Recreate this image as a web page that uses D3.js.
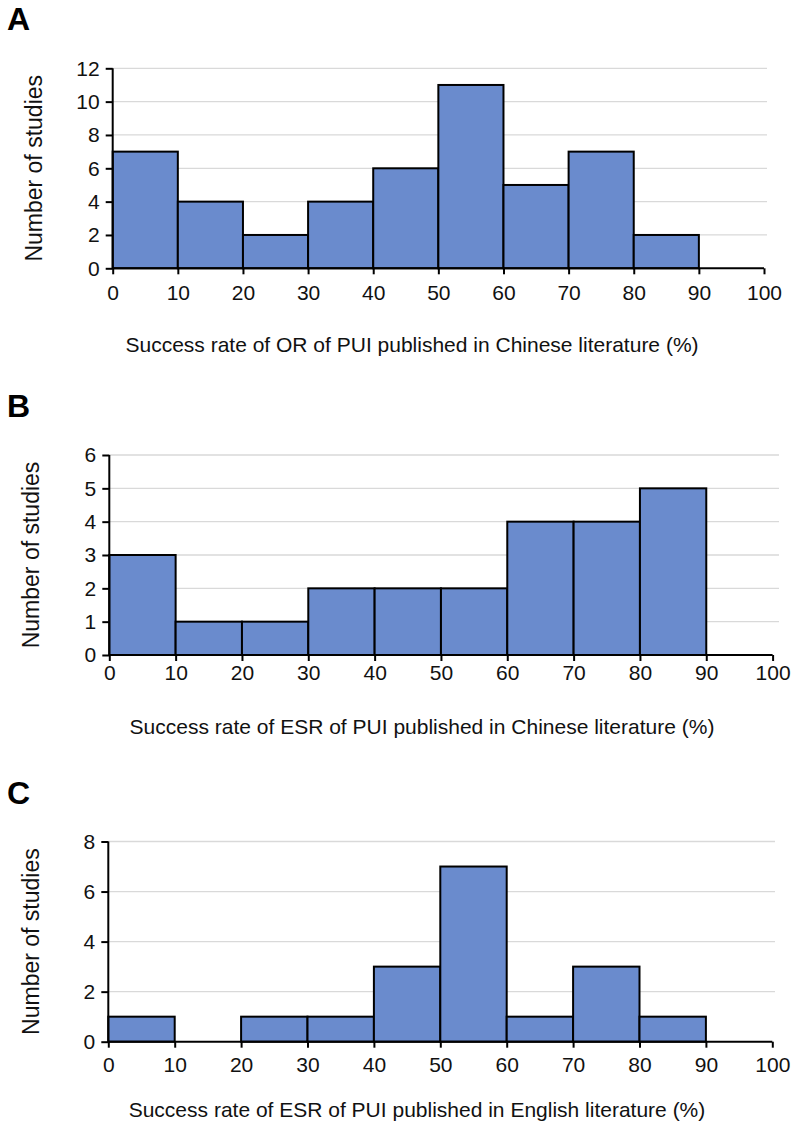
<!DOCTYPE html>
<html>
<head>
<meta charset="utf-8">
<script src="https://cdn.jsdelivr.net/npm/d3@7"></script>
<style>
  html, body { margin: 0; padding: 0; background: #fff; }
  svg { display: block; font-family: Arial, "Liberation Sans", sans-serif; }
</style>
</head>
<body>
<svg id="chart" width="797" height="1127"></svg>
<script>
// ---- data ----
const binStarts = [0, 10, 20, 30, 40, 50, 60, 70, 80, 90];
const binWidth = 10;
const countsA = [7, 4, 2, 4, 6, 11, 5, 7, 2, 0];
const countsB = [3, 1, 1, 2, 2, 2, 4, 4, 5, 0];
const countsC = [1, 0, 1, 1, 3, 7, 1, 3, 1, 0];
const xTicks = [0, 10, 20, 30, 40, 50, 60, 70, 80, 90, 100];
const yTicksA = [0, 2, 4, 6, 8, 10, 12];
const yTicksB = [0, 1, 2, 3, 4, 5, 6];
const yTicksC = [0, 2, 4, 6, 8];
const panelLetters = ["A", "B", "C"];
const yTitle = "Number of studies";
const xTitles = [
  "Success rate of OR of PUI published in Chinese literature (%)",
  "Success rate of ESR of PUI published in Chinese literature (%)",
  "Success rate of ESR of PUI published in English literature (%)"
];

// ---- layout per panel ----
const panels = [
  { letter: panelLetters[0], counts: countsA, yTicks: yTicksA, yMax: 12, xTitle: xTitles[0],
    x0: 112.7, x1: 764, top: 68.3, bottom: 268.3, gridEnd: 767,
    letterY: 30, yTitleX: 42, tickLabelDy: 32, xTitleX: 412, xTitleY: 352 },
  { letter: panelLetters[1], counts: countsB, yTicks: yTicksB, yMax: 6, xTitle: xTitles[1],
    x0: 109.3, x1: 772.6, top: 455, bottom: 655, gridEnd: 779,
    letterY: 417, yTitleX: 39, tickLabelDy: 25, xTitleX: 422, xTitleY: 734 },
  { letter: panelLetters[2], counts: countsC, yTicks: yTicksC, yMax: 8, xTitle: xTitles[2],
    x0: 108.3, x1: 772.3, top: 841.5, bottom: 1041.7, gridEnd: 775,
    letterY: 804, yTitleX: 39, tickLabelDy: 30, xTitleX: 417, xTitleY: 1117 }
];

const svg = d3.select("#chart");
const barFill = "#6a8bcd";

panels.forEach(p => {
  const g = svg.append("g");
  const x = d3.scaleLinear().domain([0, 100]).range([p.x0, p.x1]);
  const y = d3.scaleLinear().domain([0, p.yMax]).range([p.bottom, p.top]);

  // panel letter
  g.append("text").attr("x", 7).attr("y", p.letterY)
    .attr("font-size", 32).attr("font-weight", "bold").attr("fill", "#000")
    .text(p.letter);

  // gridlines
  g.append("g").selectAll("line").data(p.yTicks.filter(t => t > 0)).join("line")
    .attr("x1", p.x0).attr("x2", p.gridEnd)
    .attr("y1", d => y(d)).attr("y2", d => y(d))
    .attr("stroke", "#d9d9d9").attr("stroke-width", 1.3);

  // bars
  const bins = binStarts.map((s, i) => ({ s, v: p.counts[i] })).filter(d => d.v > 0);
  g.append("g").selectAll("rect").data(bins).join("rect")
    .attr("x", d => x(d.s)).attr("width", d => x(d.s + binWidth) - x(d.s))
    .attr("y", d => y(d.v)).attr("height", d => y(0) - y(d.v))
    .attr("fill", barFill).attr("stroke", "#000").attr("stroke-width", 2);

  // y axis
  const yAxis = d3.axisLeft(y).tickValues(p.yTicks).tickSize(7).tickPadding(6).tickFormat(d3.format("d"));
  const ya = g.append("g").attr("transform", `translate(${p.x0},0)`).call(yAxis);
  ya.select(".domain").attr("stroke", "#000").attr("stroke-width", 2).attr("d", `M0,${p.bottom}V${p.top}`);
  ya.selectAll(".tick line").attr("stroke", "#000").attr("stroke-width", 2);
  ya.selectAll(".tick text").attr("font-size", 21).attr("fill", "#111")
    .attr("font-family", "Arial, 'Liberation Sans', sans-serif");

  // x axis
  const xAxis = d3.axisBottom(x).tickValues(xTicks).tickSize(6).tickPadding(0).tickFormat(d3.format("d"));
  const xa = g.append("g").attr("transform", `translate(0,${p.bottom})`).call(xAxis);
  xa.select(".domain").attr("stroke", "#000").attr("stroke-width", 2).attr("d", `M${p.x0},0H${p.x1}`);
  xa.selectAll(".tick line").attr("stroke", "#000").attr("stroke-width", 2);
  xa.selectAll(".tick text").attr("font-size", 21).attr("fill", "#111")
    .attr("font-family", "Arial, 'Liberation Sans', sans-serif")
    .attr("dy", null).attr("y", p.tickLabelDy);

  // y title
  g.append("text")
    .attr("transform", `translate(${p.yTitleX},${(p.top + p.bottom) / 2}) rotate(-90)`)
    .attr("text-anchor", "middle").attr("font-size", 23).attr("fill", "#111")
    .text(yTitle);

  // x title
  g.append("text").attr("x", p.xTitleX).attr("y", p.xTitleY)
    .attr("text-anchor", "middle").attr("font-size", 21).attr("fill", "#111")
    .text(p.xTitle);
});
</script>
</body>
</html>
